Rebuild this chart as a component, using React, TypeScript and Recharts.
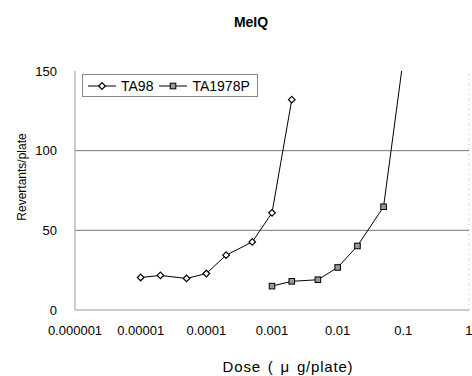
import React from "react";
import {
  LineChart,
  Line,
  XAxis,
  YAxis,
  ReferenceLine,
} from "recharts";

const ta98Dose = [0.00001, 0.00002, 0.00005, 0.0001, 0.0002, 0.0005, 0.001, 0.002];
const ta98Rev = [20.4, 21.7, 19.8, 22.9, 34.4, 42.7, 61, 132];
const ta1978Dose = [0.001, 0.002, 0.005, 0.01, 0.02, 0.05, 0.1];
const ta1978Rev = [15, 18, 19, 26.7, 40.2, 64.8, 158];

const xTicks = [0.000001, 0.00001, 0.0001, 0.001, 0.01, 0.1, 1];
const xTickLabels = ["0.000001", "0.00001", "0.0001", "0.001", "0.01", "0.1", "1"];
const yTicks = [0, 50, 100, 150];
const gridValues = [50, 100];

const ta98 = ta98Dose.map((d, i) => ({ dose: d, rev: ta98Rev[i] }));
const ta1978 = ta1978Dose.map((d, i) => ({ dose: d, rev: ta1978Rev[i] }));

const FONT = "'Liberation Sans', Arial, sans-serif";

function Diamond({ cx, cy }: { cx: number; cy: number }) {
  const r = 3.3;
  return (
    <path
      d={`M${cx},${cy - r} L${cx + r},${cy} L${cx},${cy + r} L${cx - r},${cy} Z`}
      fill="#fff"
      stroke="#000"
      strokeWidth={1.2}
    />
  );
}

function Square({ cx, cy }: { cx: number; cy: number }) {
  const r = 2.8;
  return (
    <rect x={cx - r} y={cy - r} width={r * 2} height={r * 2} fill="#999" stroke="#000" strokeWidth={1} />
  );
}

function LegendBox() {
  return (
    <div
      style={{
        position: "absolute",
        left: 82,
        top: 74,
        width: 176,
        height: 23,
        border: "1px solid #888",
        background: "#fff",
        display: "flex",
        alignItems: "center",
        fontFamily: FONT,
        fontSize: 14,
        color: "#000",
        boxSizing: "border-box",
      }}
    >
      <svg width={30} height={12} style={{ marginLeft: 5 }}>
        <line x1={0} y1={6} x2={28} y2={6} stroke="#000" strokeWidth={1} />
        <Diamond cx={14} cy={6} />
      </svg>
      <span style={{ marginLeft: 3 }}>TA98</span>
      <svg width={30} height={12} style={{ marginLeft: 6 }}>
        <line x1={0} y1={6} x2={28} y2={6} stroke="#000" strokeWidth={1} />
        <Square cx={14} cy={6} />
      </svg>
      <span style={{ marginLeft: 3 }}>TA1978P</span>
    </div>
  );
}

export default function App() {
  return (
    <div style={{ position: "absolute", left: 0, top: 0, width: 472, height: 376, background: "#fff" }}>
      <div
        style={{
          position: "absolute",
          left: 251,
          top: 22,
          transform: "translate(-50%, -50%)",
          whiteSpace: "nowrap",
          fontFamily: FONT,
          fontSize: 14,
          fontWeight: 600,
        }}
      >
        MeIQ
      </div>
      <div
        style={{
          position: "absolute",
          left: 22,
          top: 177,
          transform: "translate(-50%, -50%) rotate(-90deg)",
          whiteSpace: "nowrap",
          fontFamily: FONT,
          fontSize: 12,
        }}
      >
        Revertants/plate
      </div>
      <div
        style={{
          position: "absolute",
          left: 288,
          top: 366,
          transform: "translate(-50%, -50%)",
          whiteSpace: "nowrap",
          fontFamily: FONT,
          fontSize: 15,
          letterSpacing: 0.8,
          wordSpacing: 2,
        }}
      >
        Dose ( μ g/plate)
      </div>
      <LineChart
        width={472}
        height={376}
        margin={{ top: 71, right: 3, bottom: 36, left: 0 }}
      >
        <XAxis
          dataKey="dose"
          type="number"
          scale="log"
          domain={[0.000001, 1]}
          ticks={xTicks}
          tickFormatter={(v: number) => xTickLabels[xTicks.indexOf(v)] ?? String(v)}
          allowDataOverflow
          height={30}
          tick={{ fill: "#000", fontSize: 13, fontFamily: FONT }}
          axisLine={{ stroke: "#999" }}
          tickLine={false}
          tickSize={6}
          tickMargin={10}
        />
        <YAxis
          type="number"
          domain={[0, 150]}
          ticks={yTicks}
          allowDataOverflow
          width={75}
          tick={{ fill: "#000", fontSize: 13, fontFamily: FONT }}
          axisLine={{ stroke: "#999" }}
          tickLine={false}
          tickSize={6}
          tickMargin={12}
        />
        {gridValues.map((v) => (
          <ReferenceLine key={v} y={v} stroke="#777" strokeWidth={1} />
        ))}
        <ReferenceLine x={1} stroke="#bbb" strokeDasharray="1 4" />
        <Line
          data={ta98}
          dataKey="rev"
          stroke="#000"
          strokeWidth={1}
          isAnimationActive={false}
          dot={(p: any) => <Diamond key={`a${p.index}`} cx={p.cx} cy={p.cy} />}
          activeDot={false}
        />
        <Line
          data={ta1978}
          dataKey="rev"
          stroke="#000"
          strokeWidth={1}
          isAnimationActive={false}
          dot={(p: any) => <Square key={`b${p.index}`} cx={p.cx} cy={p.cy} />}
          activeDot={false}
        />
      </LineChart>
      <LegendBox />
    </div>
  );
}
